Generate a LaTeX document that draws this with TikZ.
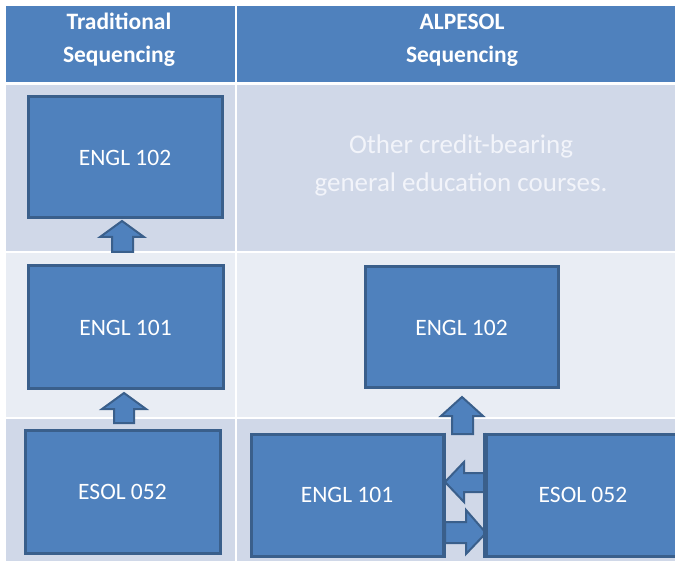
\documentclass[tikz,border=0pt]{standalone}
\usepackage{fontspec}
\setmainfont{Carlito}
\definecolor{hdr}{HTML}{4F81BD}
\definecolor{boxblue}{HTML}{4F81BD}
\definecolor{bord}{HTML}{3A5F8B}
\definecolor{rowdark}{HTML}{D0D8E8}
\definecolor{rowlight}{HTML}{E9EDF4}
\definecolor{softtext}{HTML}{F2F4FA}
\begin{document}
\begin{tikzpicture}[x=1pt,y=-1pt,
  hdrtext/.style={text=white,font=\fontsize{23.5}{33}\selectfont\bfseries,align=center,inner sep=0},
  coursebox/.style={draw=bord,fill=boxblue,line width=3pt,text=white,
    font=\fontsize{23.5}{28}\selectfont,inner sep=0},
  blockarrow/.style={draw=bord,fill=boxblue,line width=2pt,line join=miter},
  note/.style={text=softtext,font=\fontsize{27}{38}\selectfont,align=center,inner sep=0}]
\useasboundingbox (0,0) rectangle (675,561);
\clip (0,0) rectangle (675,561);
% table background
\fill[white] (0,0) rectangle (675,561);
\fill[hdr] (6,6) rectangle (675,82);
\fill[rowdark] (6,85) rectangle (675,251);
\fill[rowlight] (6,253) rectangle (675,417);
\fill[rowdark] (6,419) rectangle (675,561);
\fill[white] (235,6) rectangle (237,561);
% header
\node[hdrtext,anchor=base] (h1) at (119,63) {Traditional\\Sequencing};
\node[hdrtext,anchor=base] (h2) at (462,63) {ALPESOL\\Sequencing};
% note
\node[note,anchor=base] (oth) at (461,192) {Other credit-bearing\\general education courses.};
% left column
\node[coursebox,minimum width=194pt,minimum height=121pt] (l102) at (125,157.5) {ENGL 102};
\node[coursebox,minimum width=195pt,minimum height=123pt] (l101) at (125.5,327.5) {ENGL 101};
\node[coursebox,minimum width=195pt,minimum height=123pt] (l052) at (122.5,491.5) {ESOL 052};
% right column
\node[coursebox,minimum width=193pt,minimum height=121pt] (r102) at (461.5,327.5) {ENGL 102};
\node[coursebox,minimum width=192pt,minimum height=122pt] (r101) at (347,495) {ENGL 101};
\node[coursebox,minimum width=194pt,minimum height=122pt] (r052) at (583,495) {ESOL 052};
% block arrows
\draw[blockarrow] (122,221) -- (144,237) -- (133,237) -- (133,252) -- (112,252) -- (112,237) -- (100,237) -- cycle;
\draw[blockarrow] (124,393) -- (146,409) -- (134,409) -- (134,423) -- (114,423) -- (114,409) -- (102,409) -- cycle;
\draw[blockarrow] (462,397) -- (483,416) -- (473,416) -- (473,434) -- (452,434) -- (452,416) -- (441,416) -- cycle;
\draw[blockarrow] (445,482) -- (464,462) -- (464,473) -- (486,473) -- (486,492) -- (464,492) -- (464,502) -- cycle;
\draw[blockarrow] (486,533) -- (466,510) -- (466,522) -- (445,522) -- (445,543) -- (466,543) -- (466,554) -- cycle;
% redraw box borders over arrow ends
\draw[bord,line width=3pt] (r101.north east) -- (r101.south east);
\draw[bord,line width=3pt] (r052.north west) -- (r052.south west);
\end{tikzpicture}
\end{document}
